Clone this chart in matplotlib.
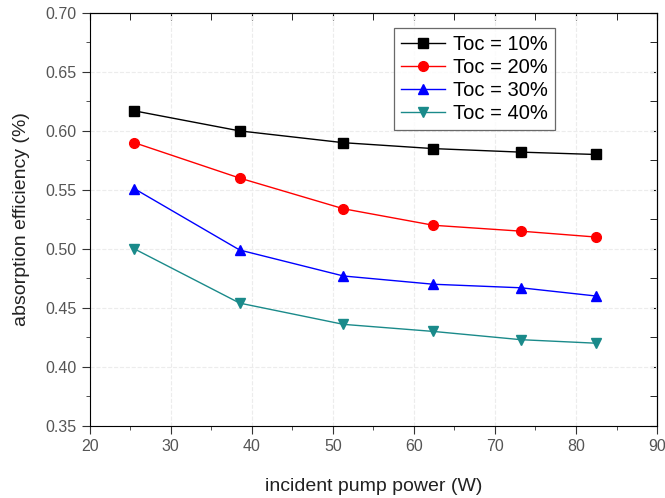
import numpy as np
import matplotlib.pyplot as plt
from matplotlib.ticker import MultipleLocator

plt.rcParams['font.family'] = ['Liberation Sans', 'DejaVu Sans']

############ **** Data **** ############
power = [25.5, 38.5, 51.3, 62.4, 73.2, 82.5]
toc10 = [0.617, 0.600, 0.590, 0.585, 0.582, 0.580]
toc20 = [0.590, 0.560, 0.534, 0.520, 0.515, 0.510]
toc30 = [0.551, 0.499, 0.477, 0.470, 0.467, 0.460]
toc40 = [0.500, 0.454, 0.436, 0.430, 0.423, 0.420]
labels = ['Toc = 10%', 'Toc = 20%', 'Toc = 30%', 'Toc = 40%']

############ **** Figure **** ############
fig = plt.figure(figsize=(6.65, 4.98), dpi=100)
ax = fig.add_axes([0.135, 0.145, 0.853, 0.829])

ax.plot(power, toc10, '-s', color='black', markersize=6.5, lw=1.0, label=labels[0])
ax.plot(power, toc20, '-o', color='red', markersize=7, lw=1.0, label=labels[1])
ax.plot(power, toc30, '-^', color='blue', markersize=7.5, lw=1.0, label=labels[2])
ax.plot(power, toc40, '-v', color='#1a8a8a', markersize=7.5, lw=1.0, label=labels[3])

ax.set_xlim(20, 90)
ax.set_ylim(0.35, 0.70)
ax.xaxis.set_major_locator(MultipleLocator(10))
ax.xaxis.set_minor_locator(MultipleLocator(5))
ax.yaxis.set_major_locator(MultipleLocator(0.05))
ax.yaxis.set_minor_locator(MultipleLocator(0.025))
ax.yaxis.set_major_formatter(plt.FormatStrFormatter('%.2f'))

ax.tick_params(which='both', direction='out', labelsize=11.5, colors='#333333',
               labelcolor='#555555')
ax.tick_params(which='major', length=6)
ax.tick_params(which='minor', length=3)
sx = ax.secondary_xaxis('top')
sx.set_xticks(np.arange(20, 91, 10))
sx.xaxis.set_minor_locator(MultipleLocator(5))
sx.tick_params(which='both', direction='in', labeltop=False, length=5)
sy = ax.secondary_yaxis('right')
sy.set_yticks(np.arange(0.35, 0.701, 0.05))
sy.yaxis.set_minor_locator(MultipleLocator(0.025))
sy.tick_params(which='both', direction='in', labelright=False, length=5)

ax.grid(True, which='major', color='#ececec', linestyle='--', lw=0.8)

ax.set_xlabel('incident pump power (W)', fontsize=14, color='#222222', labelpad=17)
ax.set_ylabel('absorption efficiency (%)', fontsize=14, color='#222222', labelpad=11)

leg = ax.legend(loc='upper right', bbox_to_anchor=(0.82, 0.964), borderaxespad=0,
                fontsize=14.5, fancybox=False, edgecolor='#444444', handlelength=2.2,
                handletextpad=0.4, borderpad=0.35, labelspacing=0.2)
leg.get_frame().set_linewidth(0.9)

fig.savefig('out.png', dpi=100)
